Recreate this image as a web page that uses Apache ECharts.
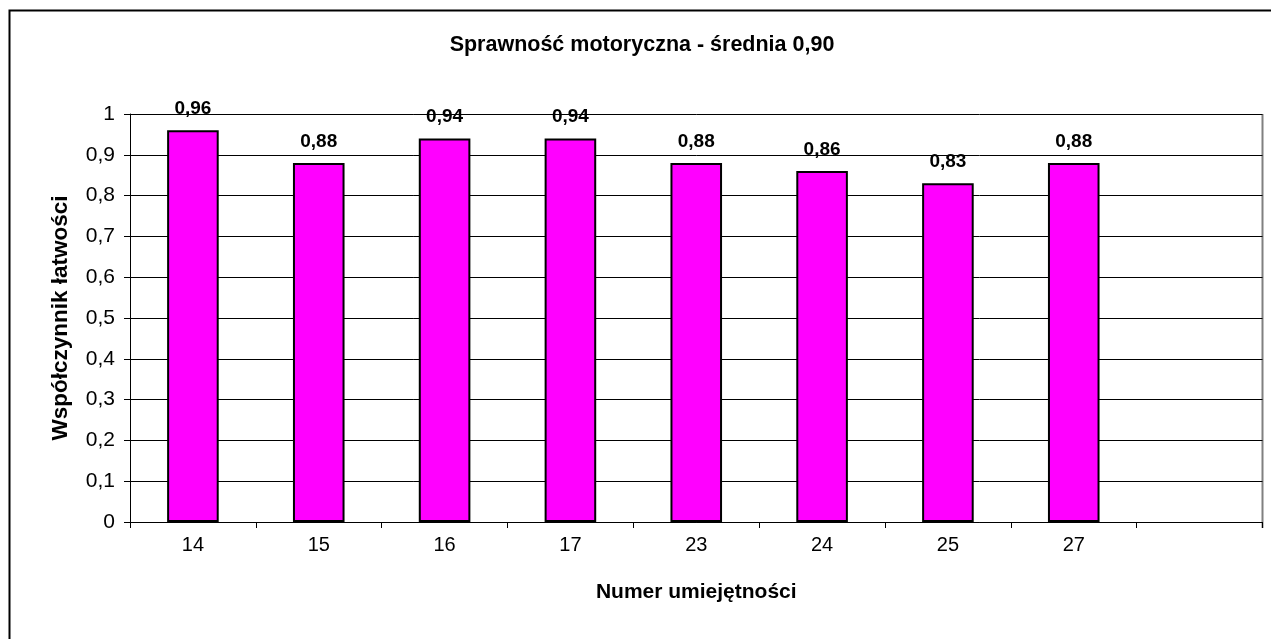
<!DOCTYPE html>
<html>
<head>
<meta charset="utf-8">
<script src="https://cdn.jsdelivr.net/npm/echarts@6/dist/echarts.min.js"></script>
<style>
html,body{margin:0;padding:0;background:#fff;}
#c{width:1271px;height:639px;}
</style>
</head>
<body>
<div id="c"></div>
<script>
const categories = ['14','15','16','17','23','24','25','27',''];
const values = [0.96, 0.88, 0.94, 0.94, 0.88, 0.86, 0.83, 0.88, null];
const yTicks = [0,0.1,0.2,0.3,0.4,0.5,0.6,0.7,0.8,0.9,1];
const titleText = 'Sprawność motoryczna - średnia 0,90';
const xName = 'Numer umiejętności';
const yName = 'Współczynnik łatwości';

const fmt = v => String(v).replace('.', ',');
const chart = echarts.init(document.getElementById('c'), null, {renderer:'canvas'});
chart.setOption({
  animation:false,
  backgroundColor:'#fff',
  textStyle:{fontFamily:'Liberation Sans, Arial, sans-serif'},
  graphic:[{
    type:'rect', left:7, top:8, silent:true,
    shape:{x:0,y:0,width:1290,height:660},
    style:{fill:'none', stroke:'#000', lineWidth:2}
  },{
    type:'line', silent:true,
    shape:{x1:1262.5,y1:114,x2:1262.5,y2:528},
    style:{stroke:'#808080', lineWidth:2}
  }],
  title:{
    text:titleText, left:637, top:29, textAlign:'center',
    textStyle:{fontSize:21.5, fontWeight:'bold', color:'#000', fontFamily:'Liberation Sans, Arial, sans-serif'}
  },
  grid:{left:130, right:8.5, top:114, bottom:117, containLabel:false},
  xAxis:{
    type:'category', data:categories,
    name:xName, nameLocation:'middle', nameGap:60,
    nameTextStyle:{fontSize:21, fontWeight:'bold', color:'#000'},
    axisLine:{lineStyle:{color:'#000', width:1}},
    axisTick:{show:true, length:6, lineStyle:{color:'#000'}, alignWithLabel:false},
    axisLabel:{fontSize:20, color:'#000', margin:13},
    splitLine:{show:false}
  },
  yAxis:{
    type:'value', min:0, max:1, interval:0.1,
    name:yName, nameLocation:'middle', nameGap:58,
    nameTextStyle:{fontSize:22.5, fontWeight:'bold', color:'#000'},
    axisLine:{show:true, lineStyle:{color:'#000', width:1}},
    axisTick:{show:true, length:6, inside:false, lineStyle:{color:'#000'}},
    axisLabel:{fontSize:21, color:'#000', margin:15,
      formatter: v => { const r = Math.round(v*10)/10; return yTicks.includes(r) ? fmt(r) : ''; }},
    splitLine:{show:true, lineStyle:{color:'#000', width:1}}
  },
  series:[{
    type:'bar', data:values, barWidth:'41%',
    itemStyle:{color:'#FF00FF', borderColor:'#000', borderWidth:2},
    label:{show:true, position:'top', distance:12, fontSize:19, fontWeight:'bold', color:'#000',
      formatter: p => fmt(p.value.toFixed(2))}
  }]
});
</script>
</body>
</html>
